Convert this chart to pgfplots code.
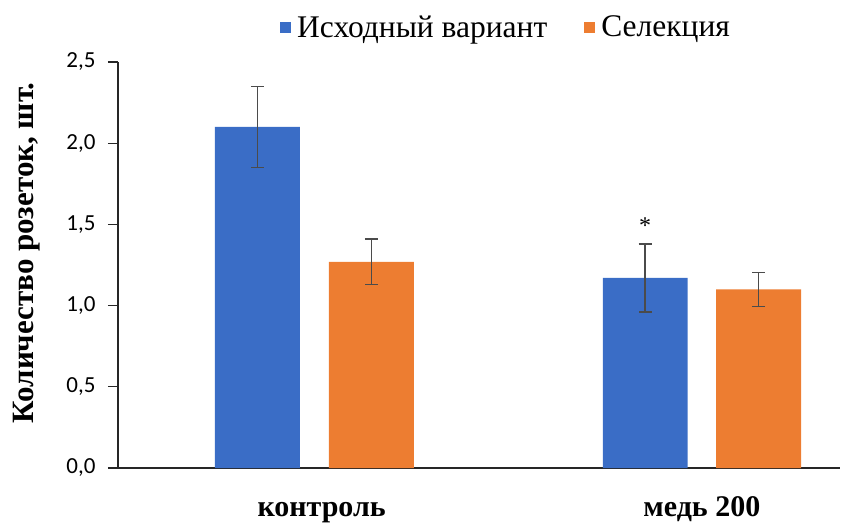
\documentclass[border=0pt]{standalone}
\usepackage{fontspec}
\setmainfont{Liberation Serif}
\newfontfamily\calibri{Carlito}
\usepackage{pgfplots}
\pgfplotsset{compat=1.18}
\definecolor{cblue}{RGB}{58,109,198}
\definecolor{corange}{RGB}{237,125,49}
\definecolor{egray}{RGB}{75,75,75}
\begin{document}
\begin{tikzpicture}
\begin{axis}[
 at={(0,0)}, anchor=south west,
 scale only axis, width=722pt, height=406pt,
 xmin=-0.505, xmax=1.356, ymin=0, ymax=2.5,
 axis x line=bottom, axis y line=left,
 axis line style={-, line width=1.3pt, black!85},
 ytick={0,0.5,1,1.5,2,2.5},
 tick align=outside, major tick length=10pt,
 ytick style={line width=1.3pt, black!85},
 yticklabel style={font=\calibri\fontsize{23}{27}\selectfont, xshift=-9pt, /pgf/number format/fixed, /pgf/number format/fixed zerofill, /pgf/number format/precision=1, /pgf/number format/use comma, /pgf/number format/assume math mode=true},
 xtick={0.02,1}, xticklabels={контроль, медь 200},
 xtick style={draw=none},
 xticklabel style={font=\bfseries\fontsize{30}{34}\selectfont, anchor=base, yshift=-38pt},
 ylabel={Количество розеток, шт.},
 ylabel style={font=\bfseries\fontsize{31}{36}\selectfont, at={(axis description cs:-0.127,0.53)}, anchor=center},
 legend columns=2,
 legend style={draw=none, fill=none, font=\fontsize{31.5}{36}\selectfont, at={(0.2244,1.086)}, anchor=west, xshift=-3pt, /tikz/every even column/.append style={column sep=35pt}},
]
\addplot[ybar, bar shift=0pt, bar width=0.219, fill=cblue, draw=none,
  legend image code/.code={\fill[cblue] (0pt,-5.5pt) rectangle (11pt,5.5pt); \path (15pt,0pt);},
  error bars/.cd, y dir=both, y explicit,
  error bar style={egray, line width=1.5pt},
  error mark options={egray, rotate=90, mark size=6.5pt, line width=1.5pt}]
  coordinates {(-0.146,2.10) +- (0,0.25) (0.854,1.17) +- (0,0.21)};
\addlegendentry{Исходный вариант}
\addplot[ybar, bar shift=0pt, bar width=0.219, fill=corange, draw=none,
  legend image code/.code={\fill[corange] (0pt,-5.5pt) rectangle (11pt,5.5pt); \path (15pt,0pt);},
  error bars/.cd, y dir=both, y explicit,
  error bar style={egray, line width=1.5pt},
  error mark options={egray, rotate=90, mark size=6.5pt, line width=1.5pt}]
  coordinates {(0.148,1.27) +- (0,0.14) (1.146,1.10) +- (0,0.105)};
\addlegendentry{Селекция}
\node[font=\fontsize{24}{28}\selectfont] at (axis cs:0.854,1.49) {*};
\end{axis}
\pgfresetboundingbox
\path (-118pt,-55pt) rectangle (734pt,468pt);
\end{tikzpicture}
\end{document}
